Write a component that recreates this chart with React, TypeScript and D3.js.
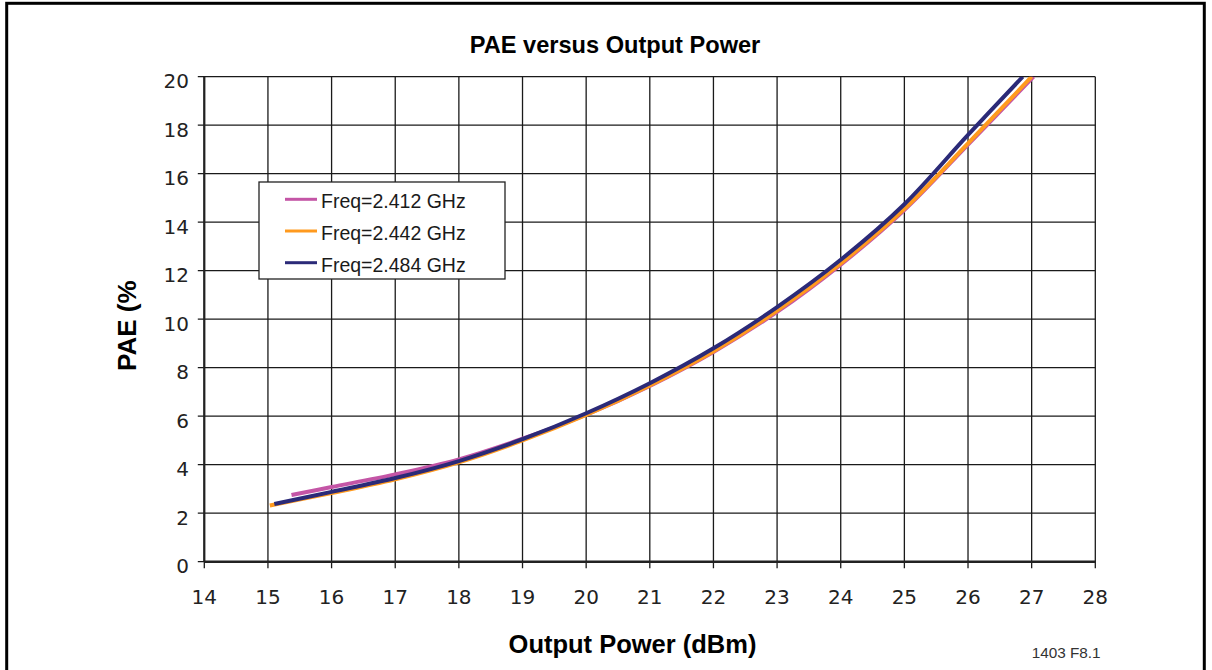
import React from 'react';
import * as d3 from 'd3';

// PAE (%) vs output power (dBm)
const pwr2412 = [15.37, 16, 17, 18, 19, 20, 21, 22, 23, 24, 25, 26, 27.03];
const pae2412 = [2.75, 3.08, 3.6, 4.22, 5.07, 6.06, 7.25, 8.65, 10.3, 12.25, 14.5, 17.2, 20];

const pwr2442 = [15.03, 16, 17, 18, 19, 20, 21, 22, 23, 24, 25, 26, 27.0];
const pae2442 = [2.32, 2.83, 3.4, 4.1, 5.0, 6.05, 7.27, 8.68, 10.35, 12.3, 14.55, 17.25, 20];

const pwr2484 = [15.1, 16, 17, 18, 19, 20, 21, 22, 23, 24, 25, 26, 26.86];
const pae2484 = [2.38, 2.88, 3.45, 4.15, 5.05, 6.12, 7.36, 8.8, 10.5, 12.45, 14.74, 17.6, 20];

const seriesNames = ['Freq=2.412 GHz', 'Freq=2.442 GHz', 'Freq=2.484 GHz'];
const seriesColors = ['#c455a6', '#ff9a1e', '#2b2a78'];

const xTicks = [14, 15, 16, 17, 18, 19, 20, 21, 22, 23, 24, 25, 26, 27, 28];
const yTicks = [0, 2, 4, 6, 8, 10, 12, 14, 16, 18, 20];

const W = 1212;
const H = 670;
const plot = {left: 204.3, right: 1095.3, top: 76.7, bottom: 561.7};

const App = () => {
    const x = d3.scaleLinear().domain([14, 28]).range([plot.left, plot.right]);
    const y = d3.scaleLinear().domain([0, 20]).range([plot.bottom, plot.top]);

    const line = d3.line<[number, number]>()
        .x(d => x(d[0]))
        .y(d => y(d[1]))
        .curve(d3.curveCatmullRom.alpha(0.5));

    const series = [
        d3.zip(pwr2412, pae2412) as [number, number][],
        d3.zip(pwr2442, pae2442) as [number, number][],
        d3.zip(pwr2484, pae2484) as [number, number][],
    ];

    const tickFont = '"DejaVu Sans", sans-serif';
    const labelFont = '"Liberation Sans", Arial, sans-serif';

    return (
        <svg width={W} height={H} style={{position: 'absolute', left: 0, top: 0, background: '#fff'}}>
            {/* outer frame */}
            <rect x={6.7} y={3.3} width={1197.6} height={700} fill="none" stroke="#000" strokeWidth={3} />

            <text x={615} y={53} textAnchor="middle" fontFamily={labelFont} fontWeight="bold" fontSize={23.6}>
                PAE versus Output Power
            </text>

            {/* grid */}
            {xTicks.map(t => (
                <line key={'gx' + t} x1={x(t)} x2={x(t)} y1={plot.top} y2={plot.bottom + 6.5}
                      stroke="#1a1a1a" strokeWidth={1.3} />
            ))}
            {yTicks.map(t => (
                <line key={'gy' + t} x1={plot.left - 6.5} x2={plot.right} y1={y(t)} y2={y(t)}
                      stroke="#1a1a1a" strokeWidth={1.3} />
            ))}
            {/* axis lines */}
            <line x1={plot.left} x2={plot.left} y1={plot.top} y2={plot.bottom} stroke="#222" strokeWidth={2.2} />
            <line x1={plot.left} x2={plot.right} y1={plot.bottom} y2={plot.bottom} stroke="#222" strokeWidth={2.5} />

            {/* tick labels */}
            {yTicks.map(t => (
                <text key={'ly' + t} x={189} y={y(t) + 11.5} textAnchor="end" fontFamily={tickFont}
                      fontSize={20} fill="#222">{t}</text>
            ))}
            {xTicks.map(t => (
                <text key={'lx' + t} x={x(t)} y={603.5} textAnchor="middle" fontFamily={tickFont}
                      fontSize={20} fill="#222">{t}</text>
            ))}

            {/* curves */}
            <g clipPath="url(#plotClip)">
                {series.map((s, i) => (
                    <path key={'s' + i} d={line(s) || ''} fill="none" stroke={seriesColors[i]}
                          strokeWidth={4} />
                ))}
            </g>
            <defs>
                <clipPath id="plotClip">
                    <rect x={plot.left} y={plot.top} width={plot.right - plot.left} height={plot.bottom - plot.top} />
                </clipPath>
            </defs>

            {/* legend */}
            <rect x={259} y={182} width={246} height={97} fill="#fff" stroke="#222" strokeWidth={1.3} />
            {seriesNames.map((n, i) => (
                <g key={'lg' + i}>
                    <line x1={285} x2={317} y1={199.3 + i * 31.7} y2={199.3 + i * 31.7}
                          stroke={seriesColors[i]} strokeWidth={3} />
                    <text x={321} y={208.3 + i * 31.7} fontFamily={labelFont} fontSize={19.5}
                          fill="#1a1a1a">{n}</text>
                </g>
            ))}

            {/* axis titles */}
            <text transform="translate(136,371) rotate(-90)" fontFamily={labelFont} fontWeight="bold"
                  fontSize={26}>PAE (%</text>
            <text x={632.5} y={653} textAnchor="middle" fontFamily={labelFont} fontWeight="bold"
                  fontSize={25.5}>Output Power (dBm)</text>

            <text x={1031.7} y={658} fontFamily={labelFont} fontSize={15.3} fill="#333">1403 F8.1</text>
        </svg>
    );
};

export default App;
